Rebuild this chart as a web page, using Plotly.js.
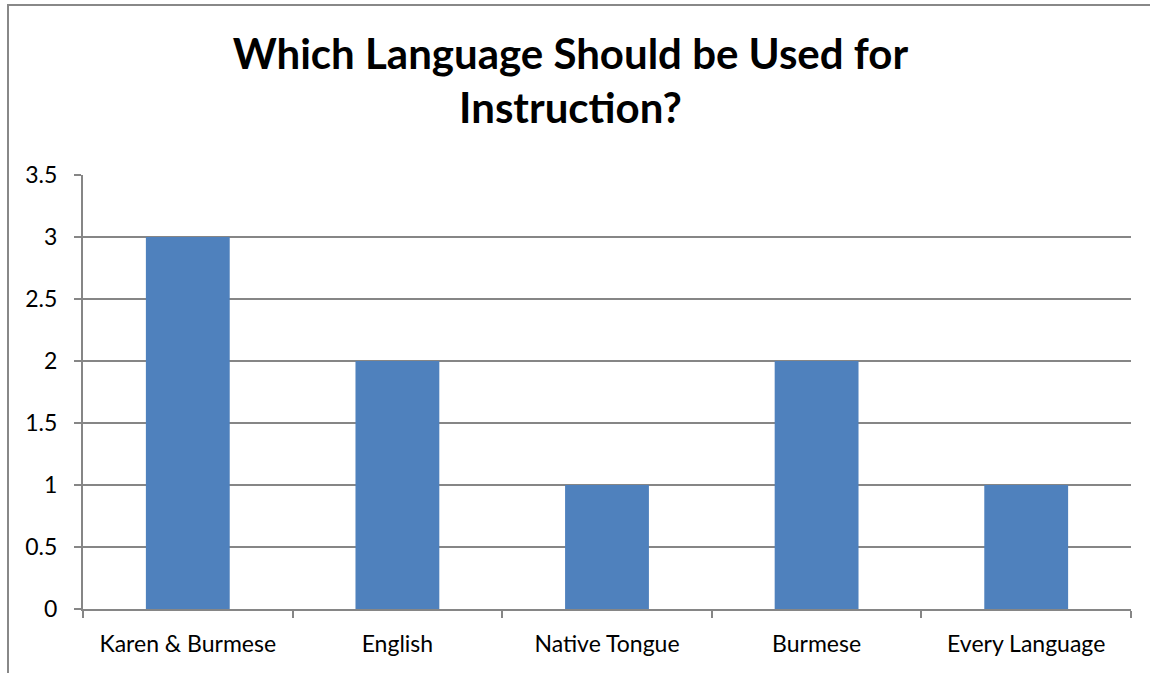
<!DOCTYPE html>
<html><head><meta charset="utf-8">
<script src="https://cdn.plot.ly/plotly-3.0.1.min.js"></script>
<style>
html,body{margin:0;padding:0;background:#fff;}
#wrap{position:relative;width:1150px;height:673px;overflow:hidden;}
#chart{position:absolute;left:0;top:0;width:1150px;height:673px;}
#frame{position:absolute;left:7px;top:4px;width:1200px;height:700px;border-left:2px solid #888;border-top:2px solid #888;pointer-events:none;}
</style></head>
<body><div id="wrap"><div id="chart"></div><div id="frame"></div></div>
<script>
const categories = ["Karen & Burmese", "English", "Native Tongue", "Burmese", "Every Language"];
const counts = [3, 2, 1, 2, 1];
const chartTitle = "Which Language Should be Used for<br>Instruction?";

const trace = {
  type: "bar", x: categories, y: counts,
  marker: {color: "#4f81bd"}, hoverinfo: "x+y"
};
const layout = {
  width: 1150, height: 673,
  margin: {l: 83, r: 19, t: 175, b: 64},
  paper_bgcolor: "rgba(0,0,0,0)", plot_bgcolor: "rgba(0,0,0,0)",
  font: {family: "Lato, 'Open Sans', sans-serif", color: "#000", size: 24},
  title: {text: chartTitle, font: {size: 42, family: "Lato, sans-serif", weight: "bold"},
          x: 0.496, xanchor: "center", y: 0.898, yanchor: "middle"},
  bargap: 0.6,
  showlegend: false,
  xaxis: {type: "category", showline: true, linecolor: "#868686", linewidth: 2,
          ticks: "outside", tickson: "boundaries", ticklen: 7, tickcolor: "#868686", tickwidth: 2,
          showgrid: false, tickfont: {size: 23}, ticklabelstandoff: 13},
  yaxis: {range: [0, 3.5], dtick: 0.5, showline: true, linecolor: "#868686", linewidth: 2,
          ticks: "outside", ticklen: 7, tickcolor: "#868686", tickwidth: 2,
          showgrid: true, gridcolor: "#868686", gridwidth: 1.5, zeroline: false,
          tickfont: {size: 23}, ticklabelstandoff: 12}
};
Plotly.newPlot("chart", [trace], layout, {displayModeBar: false, staticPlot: true});
</script></body></html>
